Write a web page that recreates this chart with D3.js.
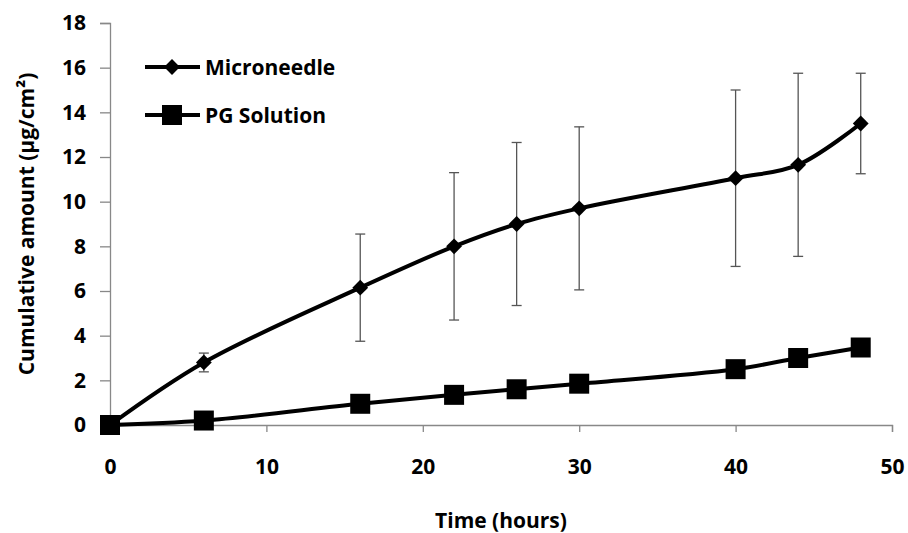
<!DOCTYPE html>
<html>
<head>
<meta charset="utf-8">
<script src="https://cdn.jsdelivr.net/npm/d3@7"></script>
<style>
  body { margin: 0; background: #fff; }
  text { font-family: "Open Sans", "DejaVu Sans", sans-serif; font-weight: bold; fill: #000; }
</style>
</head>
<body>
<svg id="chart"></svg>
<script>
var width = 908;
var height = 533;

// release data, hours vs cumulative amount
var hours = [0, 6, 16, 22, 26, 30, 40, 44, 48];
var microneedle = [0, 2.8, 6.15, 8.0, 9.0, 9.7, 11.05, 11.65, 13.5];
var microneedleErr = [0, 0.42, 2.4, 3.3, 3.65, 3.65, 3.95, 4.1, 2.25];
var pgSolution = [0, 0.2, 0.95, 1.35, 1.6, 1.85, 2.5, 3.0, 3.47];
var xTicks = [0, 10, 20, 30, 40, 50];
var yTicks = [0, 2, 4, 6, 8, 10, 12, 14, 16, 18];
var seriesNames = ["Microneedle", "PG Solution"];

var margin = { left: 110, right: 16, top: 23, bottom: 108 };

var svg = d3.select("#chart")
  .attr("width", width)
  .attr("height", height);

var x = d3.scaleLinear().domain([0, 50]).range([margin.left, width - margin.right]);
var y = d3.scaleLinear().domain([0, 18]).range([height - margin.bottom, margin.top]);

// axes
var xAxis = svg.append("g")
  .attr("transform", "translate(0," + y(0) + ")")
  .call(d3.axisBottom(x).tickValues(xTicks).tickSize(7).tickPadding(27));
var yAxis = svg.append("g")
  .attr("transform", "translate(" + x(0) + ",0)")
  .call(d3.axisLeft(y).tickValues(yTicks).tickSize(10).tickPadding(14));

[xAxis, yAxis].forEach(function(ax) {
  ax.select(".domain").attr("stroke", "#888").attr("stroke-width", 1.3);
  ax.selectAll(".tick line").attr("stroke", "#888").attr("stroke-width", 1.3);
  ax.selectAll(".tick text")
    .attr("font-family", "'Open Sans', sans-serif")
    .attr("font-weight", "bold")
    .attr("font-size", 21)
    .attr("fill", "#000");
});
xAxis.selectAll(".tick line").filter(function(d) { return d === 0; }).remove();

// axis titles
svg.append("text")
  .attr("x", 501)
  .attr("y", 528)
  .attr("text-anchor", "middle")
  .attr("font-size", 21)
  .text("Time (hours)");

svg.append("text")
  .attr("transform", "translate(34," + y(9) + ") rotate(-90)")
  .attr("text-anchor", "middle")
  .attr("font-size", 21)
  .text("Cumulative amount (µg/cm²)");

// error bars for the microneedle series
var capW = 10;
var errs = svg.append("g")
  .attr("stroke", "#555")
  .attr("stroke-width", 1.3)
  .selectAll("g")
  .data(hours.map(function(h, i) { return { h: h, v: microneedle[i], e: microneedleErr[i] }; })
    .filter(function(d) { return d.e > 0; }))
  .join("g");
errs.append("line")
  .attr("x1", function(d) { return x(d.h); })
  .attr("x2", function(d) { return x(d.h); })
  .attr("y1", function(d) { return y(d.v - d.e); })
  .attr("y2", function(d) { return y(d.v + d.e); });
errs.append("line")
  .attr("x1", function(d) { return x(d.h) - capW / 2; })
  .attr("x2", function(d) { return x(d.h) + capW / 2; })
  .attr("y1", function(d) { return y(d.v + d.e); })
  .attr("y2", function(d) { return y(d.v + d.e); });
errs.append("line")
  .attr("x1", function(d) { return x(d.h) - capW / 2; })
  .attr("x2", function(d) { return x(d.h) + capW / 2; })
  .attr("y1", function(d) { return y(d.v - d.e); })
  .attr("y2", function(d) { return y(d.v - d.e); });

// smoothed lines
var line = d3.line()
  .x(function(d) { return x(d[0]); })
  .y(function(d) { return y(d[1]); })
  .curve(d3.curveCatmullRom.alpha(0.5));

// diamond = square turned 45 degrees
var diamond = { d: d3.symbol().type(d3.symbolSquare).size(125)(), rot: 45 };
var square = { d: d3.symbol().type(d3.symbolSquare).size(400)(), rot: 0 };

function drawSeries(values, sym) {
  var pts = hours.map(function(h, i) { return [h, values[i]]; });
  svg.append("path")
    .datum(pts)
    .attr("fill", "none")
    .attr("stroke", "#000")
    .attr("stroke-width", 4)
    .attr("d", line);
  svg.append("g")
    .selectAll("path")
    .data(pts)
    .join("path")
    .attr("transform", function(d) {
      return "translate(" + x(d[0]) + "," + y(d[1]) + ") rotate(" + sym.rot + ")";
    })
    .attr("d", sym.d)
    .attr("fill", "#000");
}

drawSeries(microneedle, diamond);
drawSeries(pgSolution, square);

// legend
var legend = svg.append("g");
var legendRows = [
  { name: seriesNames[0], sym: diamond, y: 67 },
  { name: seriesNames[1], sym: square, y: 115 }
];
legendRows.forEach(function(r) {
  legend.append("line")
    .attr("x1", 145).attr("x2", 200)
    .attr("y1", r.y).attr("y2", r.y)
    .attr("stroke", "#000").attr("stroke-width", 4);
  legend.append("path")
    .attr("transform", "translate(172," + r.y + ") rotate(" + r.sym.rot + ")")
    .attr("d", r.sym.d)
    .attr("fill", "#000");
  legend.append("text")
    .attr("x", 205)
    .attr("y", r.y + 8)
    .attr("font-size", 21)
    .text(r.name);
});
</script>
</body>
</html>
